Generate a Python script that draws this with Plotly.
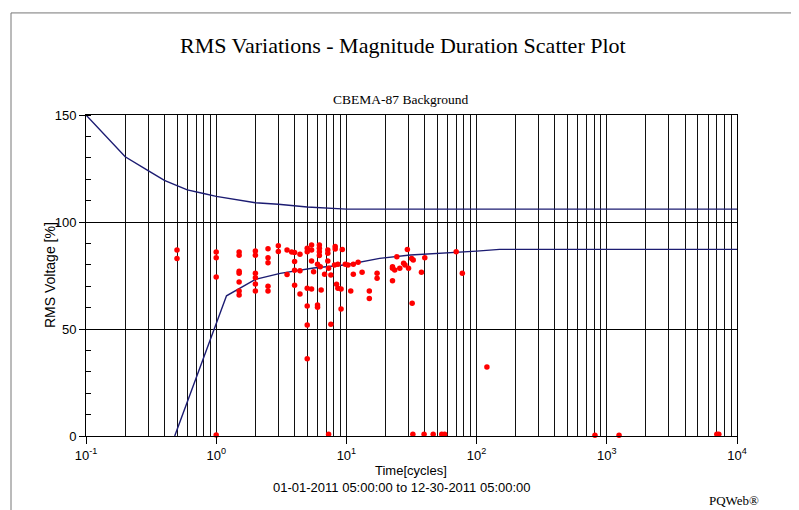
import plotly.graph_objects as go

# ---------------- data ----------------
cbema_upper_x = [0.1, 0.2, 0.3, 0.4, 0.5, 0.6, 0.8, 1.0, 2.0, 3.0, 5.0, 10.0, 10000.0]
cbema_upper_y = [150, 130.5, 124, 119.5, 117, 115, 113.3, 112, 109, 108.3, 107, 106, 106]

cbema_lower_x = [0.48, 1.2, 2.0, 3.1, 5.6, 10.0, 18.0, 31.0, 100.0, 150.0, 10000.0]
cbema_lower_y = [0, 65.5, 73.2, 76, 78.5, 80, 83, 84.6, 86.4, 87.2, 87.2]

event_duration = [
    0.5, 0.5,
    1.0, 1.0, 1.0, 1.0,
    1.5, 1.5, 1.5, 1.5, 1.5, 1.5, 1.5,
    2.0, 2.0, 2.0, 2.0, 2.0, 2.0,
    2.5, 2.5, 2.5, 2.5, 2.5,
    3.0, 3.0, 3.5, 3.5, 3.8,
    4.0, 4.0, 4.0, 4.0,
    4.4, 4.4, 4.4,
    5.0, 5.0, 5.0, 5.0, 5.0, 5.0,
    5.4, 5.4, 5.4, 5.4, 5.6,
    6.0, 6.0, 6.0,
    6.2, 6.2, 6.2, 6.2, 6.3, 6.4, 6.8,
    7.2, 7.2, 7.2, 7.3, 7.3, 7.6, 7.6,
    8.2, 8.2, 8.1, 8.4, 8.6, 8.6,
    9.1, 9.1, 9.3, 9.8, 10.3, 10.8, 11.3, 11.3,
    12.3, 13.2, 15.0, 15.0, 17.2, 17.2,
    22.6, 22.6, 22.6, 23.5, 24.4, 25.7, 27.5, 28.2, 29.4, 30.0,
    31.7, 32.6, 32.0, 37.7, 40.0, 69.7, 77.7, 120.0,
    32.4, 39.5, 46.4, 54.0, 56.8, 811.0, 1242.0, 7000.0, 7250.0,
]
event_magnitude = [
    86.9, 83.0,
    86.0, 83.3, 74.3, 0.5,
    86.0, 84.5, 77.0, 76.0, 72.0, 67.8, 65.9,
    86.5, 84.5, 76.0, 74.0, 71.0, 67.8,
    87.5, 83.3, 81.0, 70.0, 67.8,
    88.9, 86.2, 86.9, 75.5, 86.0,
    85.8, 81.5, 77.5, 70.4,
    84.9, 77.2, 66.3,
    87.7, 86.1, 69.0, 60.8, 51.9, 36.1,
    89.3, 86.9, 81.8, 68.7, 76.8,
    61.2, 60.2, 80.2,
    89.3, 87.7, 86.1, 84.3, 79.1, 68.2, 75.6,
    86.9, 85.4, 81.8, 78.4, 0.8, 75.2, 52.2,
    88.5, 87.4, 79.9, 70.9, 69.0, 80.2,
    59.3, 68.7, 87.2, 80.2, 79.9, 67.8, 75.6, 80.2,
    81.2, 76.5, 67.8, 64.3, 76.0, 73.7,
    79.1, 78.4, 72.6, 77.6, 83.8, 78.4, 80.7, 79.9, 87.2, 78.4,
    83.0, 82.2, 62.0, 76.5, 83.3, 86.1, 76.0, 32.2,
    0.8, 0.8, 0.8, 0.8, 0.8, 0.4, 0.4, 0.8, 0.8,
]

decade_vals = [0.1, 1, 10, 100, 1000, 10000]
decade_text = ["10<sup>-1</sup>", "10<sup>0</sup>", "10<sup>1</sup>",
               "10<sup>2</sup>", "10<sup>3</sup>", "10<sup>4</sup>"]
y_tick_vals = [0, 50, 100, 150]

minor_x = [m * 10.0 ** k for k in range(-1, 4) for m in range(2, 10)]

# ---------------- figure ----------------
NAVY = "#1c1c72"
fig = go.Figure()
fig.add_trace(go.Scatter(x=cbema_upper_x, y=cbema_upper_y, mode="lines",
                         line=dict(color=NAVY, width=1.4), hoverinfo="skip",
                         showlegend=False))
fig.add_trace(go.Scatter(x=cbema_lower_x, y=cbema_lower_y, mode="lines",
                         line=dict(color=NAVY, width=1.4), hoverinfo="skip",
                         showlegend=False))
fig.add_trace(go.Scatter(x=event_duration, y=event_magnitude, mode="markers",
                         marker=dict(color="#ff0000", size=5.5, line=dict(width=0)),
                         cliponaxis=False, showlegend=False))

sans = "Liberation Sans, Arial, sans-serif"
serif = "Liberation Serif, Times New Roman, serif"


def label(text, x, y, family, size, angle=0):
    return dict(text=text, xref="paper", yref="paper", x=x, y=y,
                xanchor="center", yanchor="middle", showarrow=False,
                textangle=angle,
                font=dict(family=family, size=size, color="black"))


fig.update_layout(
    width=791, height=502,
    margin=dict(l=78, r=62, t=107, b=74),
    paper_bgcolor="white", plot_bgcolor="white",
    font=dict(family=sans, size=13, color="black"),
    xaxis=dict(
        type="log", range=[-1, 4],
        tickmode="array", tickvals=decade_vals, ticktext=decade_text,
        ticks="outside", ticklen=7, tickcolor="black", tickwidth=1,
        showgrid=True, gridcolor="#111111", gridwidth=1,
        showline=True, linecolor="black", linewidth=1, mirror=True,
        zeroline=False,
        tickfont=dict(family=sans, size=13),
        minor=dict(tickmode="array", tickvals=minor_x, showgrid=True,
                   gridcolor="#111111", gridwidth=1, ticks=""),
    ),
    yaxis=dict(
        range=[0, 150],
        tickmode="array", tickvals=y_tick_vals,
        ticks="outside", ticklen=6, tickcolor="black",
        showgrid=True, gridcolor="black", gridwidth=1,
        showline=True, linecolor="black", linewidth=1, mirror=True,
        zeroline=False,
        tickfont=dict(family=sans, size=13),
        minor=dict(dtick=10, ticks="inside", ticklen=5, tickcolor="black", showgrid=False),
    ),
    shapes=[
        dict(type="rect", xref="paper", yref="paper",
             x0=-0.1152, x1=1.086, y0=-0.27, y1=1.318,
             line=dict(color="#777777", width=1), fillcolor="rgba(0,0,0,0)",
             layer="below"),
    ],
    annotations=[
        label("RMS Variations - Magnitude Duration Scatter Plot", 0.487, 1.218, serif, 22),
        label("CBEMA-87 Background", 0.484, 1.047, serif, 13.5),
        label("RMS Voltage [%]", -0.056, 0.5, sans, 14, angle=-90),
        label("Time[cycles]", 0.499, -0.106, sans, 13),
        label("01-01-2011 05:00:00 to 12-30-2011 05:00:00", 0.485, -0.159, sans, 13),
        label("PQWeb®", 0.995, -0.2, serif, 13),
    ],
)

fig.write_html("out.html")
